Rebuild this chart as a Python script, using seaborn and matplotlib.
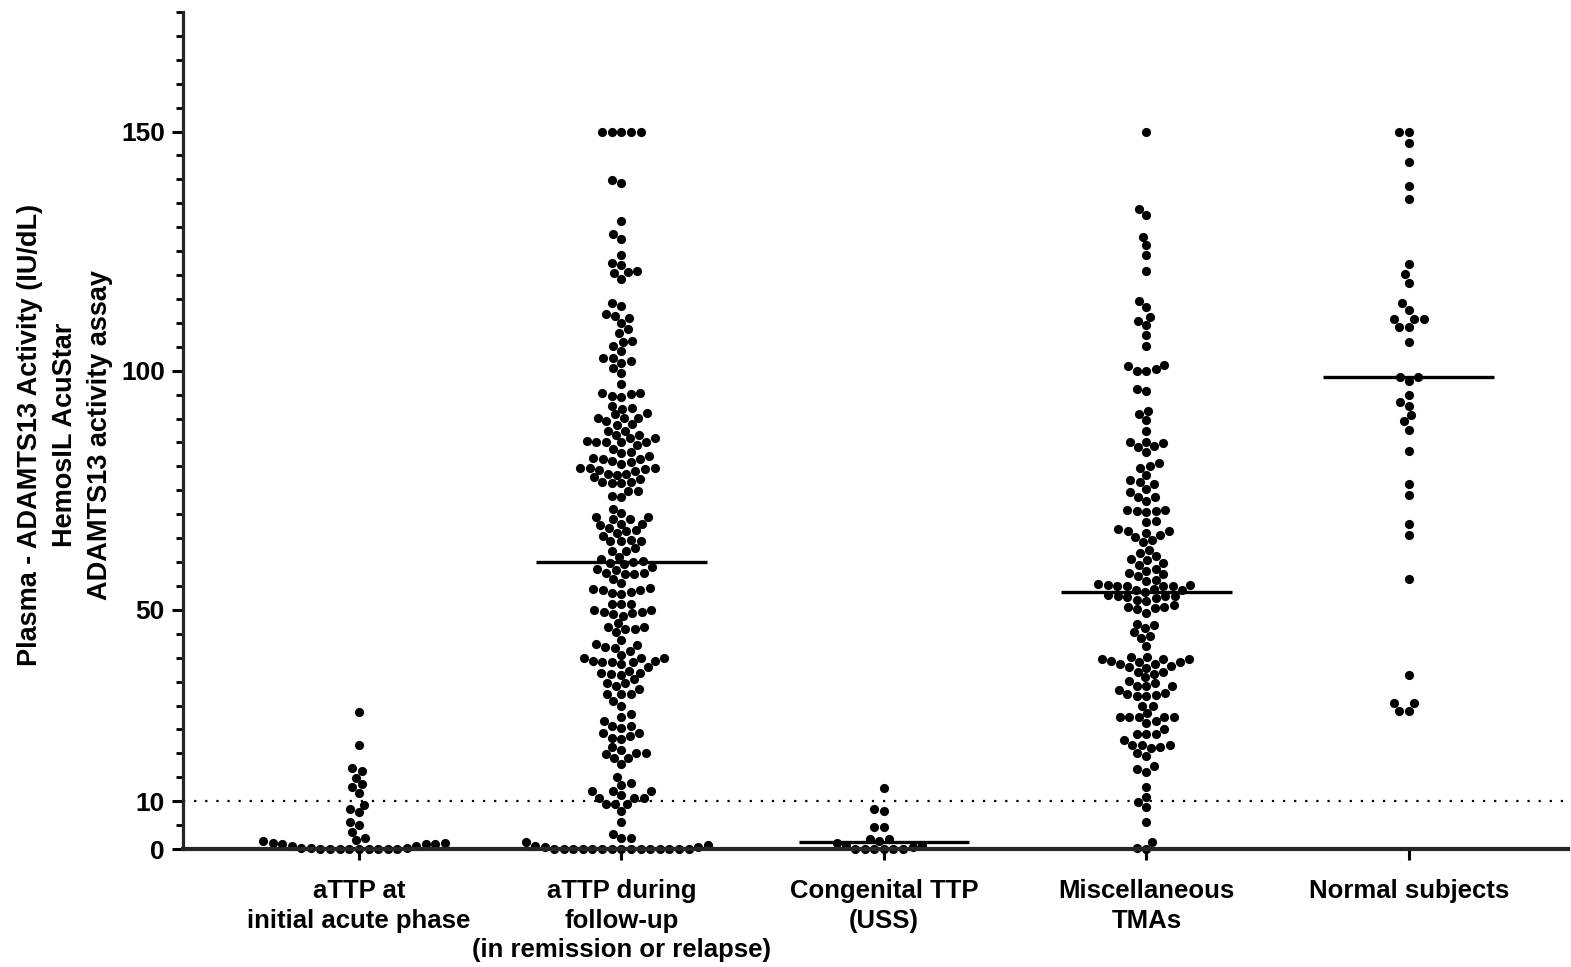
import numpy as np
import pandas as pd
import matplotlib
matplotlib.use("Agg")
import matplotlib.pyplot as plt
from matplotlib.ticker import MultipleLocator, FixedLocator
import seaborn as sns

categories = ["aTTP at\ninitial acute phase",
              "aTTP during\nfollow-up\n(in remission or relapse)",
              "Congenital TTP\n(USS)",
              "Miscellaneous\nTMAs",
              "Normal subjects"]

attp_acute = [28.6, 21.8, 16.9, 16.4, 14.9, 13.5, 13.0, 11.7, 9.3, 8.4, 7.7, 5.7, 5.0,
              3.6, 2.4, 1.8, 1.6, 1.3, 1.3, 1.0, 1.0, 1.0, 0.6, 0.6, 0.3, 0.3, 0.3,
              0, 0, 0, 0, 0, 0, 0, 0, 0]

attp_followup = [150, 150, 150, 150, 150, 139.9, 139.3, 131.4, 128.6, 127.5, 124.2, 122.5,
                 122.0, 120.9, 120.6, 120.4, 119.2,
                 114.1, 113.6, 111.9, 111.5, 111.1, 110.0, 108.7, 107.9, 106.3, 106.1, 105.1,
                 104.2, 102.6, 102.6, 102.1, 101.7, 100.5, 99.5, 97.2,
                 95.3, 94.6, 94.8, 95.3, 95.2, 92.7, 92.1, 92.2, 90.9, 91.1, 90.1, 90.2, 90.2,
                 89.4, 88.8, 88.7, 87.5, 87.5, 86.6, 86.6, 85.9, 86.0, 85.0, 85.2, 85.0, 85.3,
                 85.0, 84.5, 83.6, 83.1, 82.8, 82.1, 81.8, 81.5, 81.5, 81.2, 79.6, 80.5, 80.9,
                 79.6, 79.6, 79.1, 79.3, 79.4, 78.2, 78.4, 78.4, 77.3, 77.7, 76.5, 76.5, 76.8,
                 76.7, 74.9, 74.8, 73.5, 73.8, 71.1, 70.3, 69.1, 69.5, 69.5, 68.9,
                 67.8, 68.0, 68.0, 67.1, 66.4, 66.0, 66.6, 65.5, 64.3, 64.6, 64.5, 64.3, 62.4,
                 62.9, 62.3, 61.1, 59.9, 58.9, 60.1, 60.6, 59.5, 60.3, 57.8, 57.8, 57.5, 57.6,
                 58.6, 58.4, 56.5, 55.7, 54.3, 54.2, 53.4, 53.6, 53.8, 54.2, 54.5, 51.3, 51.3,
                 51.3, 49.9, 49.5, 49.5, 49.3, 48.8, 49.2, 49.9, 47.2, 46.4, 45.3, 46.1, 46.4,
                 46.0, 42.0, 42.7, 42.8, 43.7, 42.2,
                 39.9, 38.1, 40.6, 39.0, 39.9, 39.0, 39.4, 39.0, 41.5, 39.9, 39.4, 38.6, 37.2,
                 36.9, 36.4, 34.7, 32.4, 36.9, 33.4, 36.6, 34.7, 32.4, 31.0, 35.5, 34.0, 32.4,
                 29.9, 28.2, 27.6, 26.8, 25.7, 25.7, 25.4, 23.3, 24.2, 23.7, 22.9, 24.2, 21.3,
                 20.1, 20.1, 20.7, 19.0, 19.0, 19.9, 17.7, 15.1, 13.9, 13.4, 12.1, 12.1, 12.1,
                 11.2, 10.7, 10.7, 10.7, 9.4, 9.4, 9.4, 7.9, 5.7, 3.1, 2.3, 2.3,
                 1.5, 0.8, 0.7, 0.4, 0.4,
                 0, 0, 0, 0, 0, 0, 0, 0, 0, 0, 0, 0, 0, 0, 0]

congenital = [12.8, 8.3, 7.9, 4.7, 4.7, 2.0, 2.0, 1.7, 1.3, 0.8, 0.8, 0.4,
              0, 0, 0, 0, 0, 0]

misc_tma = [150, 132.6, 133.8, 128.0, 126.2, 124.2, 120.9, 114.6, 113.3, 111.3, 109.5, 110.3,
            107.5, 105.2, 101.3, 99.9, 100.4, 100.0, 101.0, 95.7, 96.2, 91.6, 90.9, 89.7, 87.5,
            85.0, 84.2, 84.9, 84.0, 85.1, 83.1, 80.0, 80.7, 79.6, 78.2, 77.2,
            76.4, 76.7, 75.3, 74.6, 73.7, 73.7, 72.7, 70.9, 70.4, 70.6, 70.6, 70.9, 68.3, 68.6,
            66.0, 66.4, 64.6, 65.7, 64.1, 66.9, 65.3, 66.4, 62.6, 61.9, 60.5, 59.9, 60.6, 61.2,
            58.6, 58.2, 59.4, 57.8, 57.5, 57.1, 56.3, 56.1, 54.3, 52.6, 55.0, 52.9, 54.2, 52.1,
            50.4, 55.0, 53.1, 50.6, 54.9, 52.9, 50.6, 55.2, 53.8, 51.9, 50.1, 54.9, 52.9, 51.0,
            49.4, 55.4, 52.4, 55.2, 54.2, 46.2, 44.1, 47.1, 45.3, 42.5, 46.9, 44.6, 39.7, 39.1,
            38.7, 37.1, 39.1, 39.4, 37.8, 35.9, 34.0, 32.2, 39.7, 38.1, 36.6, 34.7, 32.0, 40.2,
            38.6, 37.1, 34.0, 32.4, 39.7, 40.1, 38.3, 35.1, 33.3, 32.7, 34.0, 31.9, 30.0, 30.0,
            27.5, 27.7, 28.4, 26.8, 27.7, 26.3, 27.7, 27.5, 25.0, 24.0, 24.0, 24.0, 22.8, 21.2,
            21.8, 21.8, 20.0, 21.8, 21.4, 19.5, 16.7, 16.2, 17.4, 12.9, 10.9, 8.8, 9.9, 5.6,
            1.5, 0.3, 0]

normal = [150, 150, 147.6, 143.7, 138.6, 135.9, 122.4, 120.2, 118.4, 114.1, 112.7,
          110.8, 110.8, 110.8, 109.2, 109.2, 106.0, 98.6, 98.6, 97.8, 95.0, 93.5, 92.7,
          90.7, 89.4, 87.7, 83.3, 76.3, 74.1, 67.9, 65.6, 56.4, 36.3, 30.5, 30.5, 28.9, 28.9]

medians = [0.0, 60.0, 1.5, 53.7, 98.7]

yticks_major = [0, 10, 50, 100, 150]
threshold = 10

groups = [attp_acute, attp_followup, congenital, misc_tma, normal]
df = pd.DataFrame({
    "group": [c for c, g in zip(categories, groups) for _ in g],
    "value": [v for g in groups for v in g],
})

sns.set_theme(style="ticks")
plt.rcParams["font.family"] = ["Liberation Sans", "DejaVu Sans"]
plt.rcParams["font.weight"] = "bold"
plt.rcParams["axes.labelweight"] = "bold"

fig = plt.figure(figsize=(15.71, 9.67), dpi=100)
ax = fig.add_axes([0.1165, 0.122, 0.8815, 0.8656])

sns.swarmplot(data=df, x="group", y="value", order=categories, color="black",
              size=6.6, linewidth=0, ax=ax, clip_on=False, zorder=3, warn_thresh=1.0)

for i, m in enumerate(medians):
    ax.hlines(m, i - 0.325, i + 0.325, color="black", lw=2.4, zorder=4)

ax.axhline(threshold, color="black", lw=1.6, linestyle=(0, (1, 4)), zorder=1,
           clip_on=False)

ax.set_xlim(-0.67, 4.606)
ax.set_ylim(0, 175)
ax.yaxis.set_major_locator(FixedLocator(yticks_major))
ax.yaxis.set_minor_locator(MultipleLocator(5))

for s in ["top", "right"]:
    ax.spines[s].set_visible(False)
ax.spines["left"].set_linewidth(2.3)
ax.spines["bottom"].set_linewidth(3.0)
ax.spines["bottom"].set_zorder(5)

ax.tick_params(axis="y", which="major", length=8, width=2.2, pad=5, labelsize=19,
               color="black", labelcolor="black")
ax.tick_params(axis="y", which="minor", length=5, width=2.0, color="black")
ax.tick_params(axis="x", which="major", length=8, width=2.2, pad=13.5, labelsize=18.5,
               color="black", labelcolor="black")
for lab in ax.get_xticklabels():
    lab.set_fontweight("bold")
    lab.set_linespacing(1.3)
for lab in ax.get_yticklabels():
    lab.set_fontweight("bold")

ax.set_xlabel("")
ax.set_ylabel("Plasma - ADAMTS13 Activity (IU/dL)\nHemosIL AcuStar\nADAMTS13 activity assay",
              fontsize=19.5, fontweight="bold", linespacing=1.45, color="black")
ax.yaxis.set_label_coords(-0.0505, 0.495)

fig.savefig("out.png", dpi=100, facecolor="white")
